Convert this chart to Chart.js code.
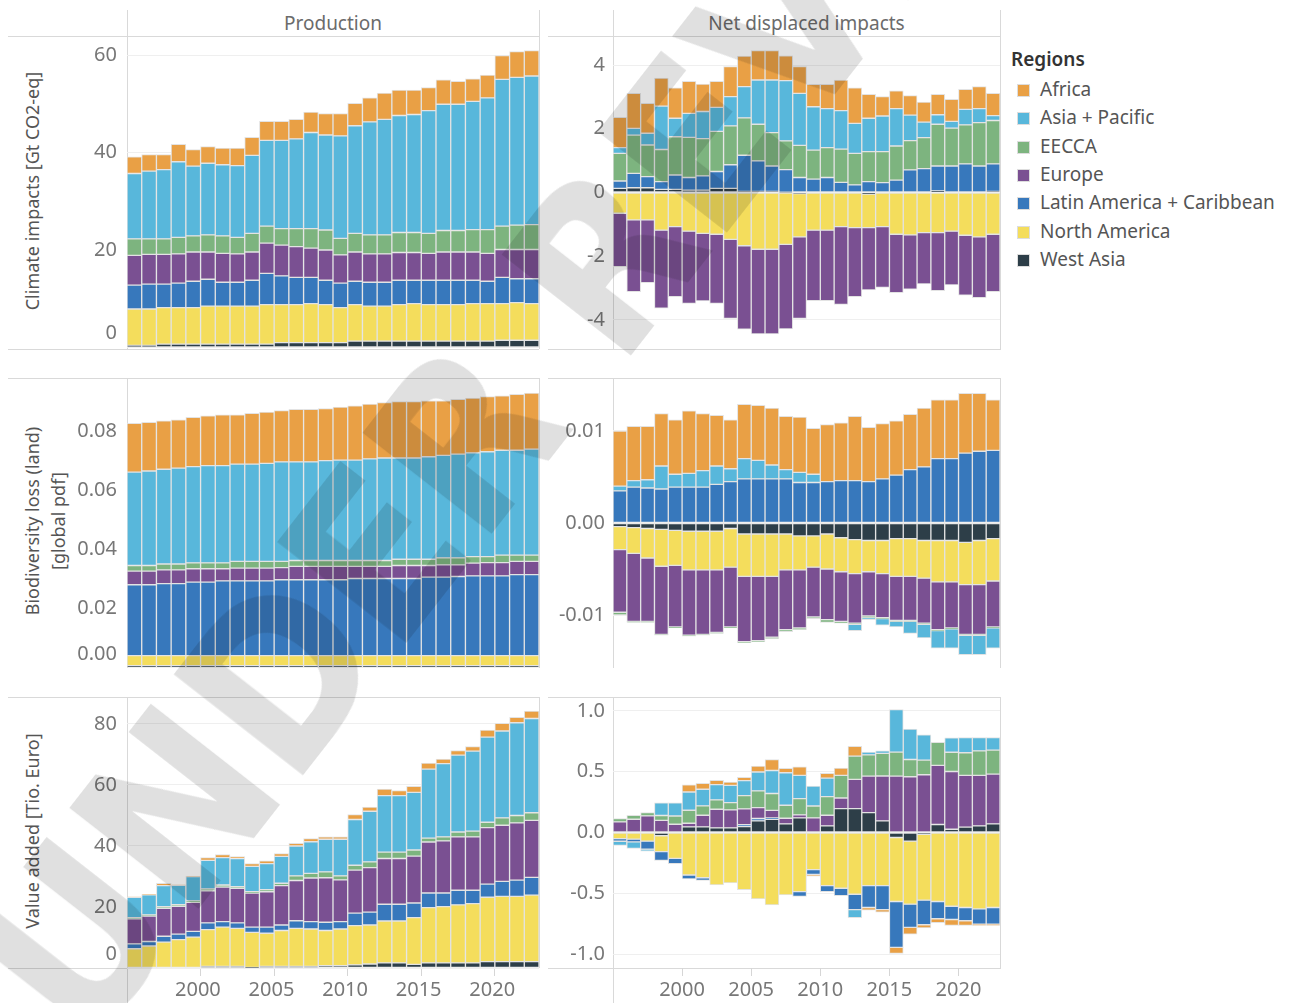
<!DOCTYPE html>
<html lang="en">
<head>
<meta charset="UTF-8">
<title>Production and net displaced impacts by region</title>
<script src="https://cdn.jsdelivr.net/npm/chart.js"></script>
<style>
  body { margin: 0; background: #fff; font-family: 'Noto Sans', 'Open Sans', sans-serif; }
  #page { position: relative; width: 1290px; height: 1003px; overflow: hidden; }
  canvas { position: absolute; }
  .line { position: absolute; background: #d9d9d9; }
  .header { position: absolute; top: 10px; height: 26px; line-height: 26px; text-align: center; font-size: 19px; color: #6b6b6b; }
  .ytitle { position: absolute; transform: translate(-50%, -50%) rotate(-90deg); white-space: nowrap; font-size: 18px; color: #555; }
  .legend-title { position: absolute; left: 1011px; top: 46px; font-size: 19px; font-weight: 600; color: #333; }
  .legend-item { position: absolute; left: 1017px; height: 28px; line-height: 28px; font-size: 19px; color: #555; white-space: nowrap; }
  .legend-item span { display: inline-block; width: 13px; height: 13px; margin-right: 10px; vertical-align: -1px; border: 1px solid #ddd; box-sizing: border-box; }
  #watermark { position: absolute; left: 8px; top: 882px; height: 220px; line-height: 220px; font: bold 225px 'DejaVu Sans Condensed', 'DejaVu Sans', sans-serif; font-stretch: condensed; color: rgba(0,0,0,0.12); white-space: nowrap; transform-origin: 0 50%; transform: rotate(-52deg); pointer-events: none; z-index: 5; }
</style>
</head>
<body>
<div id="page">
  <div class="header" style="left:127px;width:412px">Production</div>
  <div class="header" style="left:613px;width:387px">Net displaced impacts</div>

  <div class="ytitle" style="left:32px;top:191px">Climate impacts [Gt CO2-eq]</div>
  <div class="ytitle" style="left:32px;top:521px">Biodiversity loss (land)</div>
  <div class="ytitle" style="left:58px;top:521px">[global pdf]</div>
  <div class="ytitle" style="left:32px;top:831px">Value added [Tio. Euro]</div>

  <canvas id="climProd" width="532" height="313" style="left:8px;top:36px"></canvas>
  <canvas id="climNet" width="453" height="313" style="left:548px;top:36px"></canvas>
  <canvas id="bioProd" width="532" height="290" style="left:8px;top:378px"></canvas>
  <canvas id="bioNet" width="453" height="290" style="left:548px;top:378px"></canvas>
  <canvas id="vaProd" width="532" height="306" style="left:8px;top:697px"></canvas>
  <canvas id="vaNet" width="453" height="306" style="left:548px;top:697px"></canvas>

  <div class="legend-title">Regions</div>
  <div id="legend"></div>

  <div id="watermark">UNDER REVIEW</div>
</div>

<script>
const years = [1995, 1996, 1997, 1998, 1999, 2000, 2001, 2002, 2003, 2004, 2005, 2006, 2007, 2008,
               2009, 2010, 2011, 2012, 2013, 2014, 2015, 2016, 2017, 2018, 2019, 2020, 2021, 2022];
const labelledYears = [2000, 2005, 2010, 2015, 2020];

// legend order
const legendRegions = ['Africa', 'Asia + Pacific', 'EECCA', 'Europe', 'Latin America + Caribbean', 'North America', 'West Asia'];
const legendColors = ['#e9a045', '#58b7db', '#7db47f', '#7a5092', '#3778bc', '#f4dd5c', '#2d3e48'];

// stacking order, bottom to top
const stackRegions = ['West Asia', 'North America', 'Latin America + Caribbean', 'Europe', 'EECCA', 'Asia + Pacific', 'Africa'];
const stackColors = ['#2d3e48', '#f4dd5c', '#3778bc', '#7a5092', '#7db47f', '#58b7db', '#e9a045'];

// Climate impacts, production [Gt CO2-eq]
const climProdWestAsia = [0.45, 0.45, 0.7, 0.7, 0.7, 0.7, 0.7, 0.7, 0.7, 0.7, 1.0, 1.0, 1.0, 1.0, 1.0, 1.3, 1.3, 1.3, 1.3, 1.3, 1.3, 1.3, 1.3, 1.3, 1.3, 1.5, 1.5, 1.5];
const climProdNamerica = [7.45, 7.45, 7.5, 7.5, 7.5, 7.8, 7.8, 7.8, 7.8, 8.1, 7.8, 7.8, 8.0, 7.8, 7.2, 7.5, 7.2, 7.2, 7.5, 7.7, 7.5, 7.5, 7.5, 7.7, 7.7, 7.5, 7.7, 7.5];
const climProdLatam = [4.9, 5.1, 4.8, 5.0, 5.4, 5.5, 4.9, 4.9, 5.3, 6.4, 5.9, 5.6, 5.4, 5.0, 5.0, 4.8, 4.9, 4.9, 5.0, 4.8, 5.0, 5.0, 5.0, 4.8, 4.6, 5.4, 4.9, 5.1];
const climProdEurope = [6.1, 6.1, 6.1, 6.0, 6.0, 5.6, 5.9, 5.8, 5.8, 6.2, 6.3, 6.3, 6.0, 6.2, 5.8, 6.0, 5.8, 5.8, 5.7, 5.7, 5.5, 5.8, 5.8, 5.8, 5.7, 5.7, 6.0, 6.0];
const climProdEecca = [3.4, 3.2, 3.2, 3.4, 3.3, 3.5, 3.6, 3.4, 3.8, 3.5, 3.4, 3.7, 4.0, 4.1, 3.4, 3.8, 3.9, 3.9, 4.1, 4.1, 4.1, 4.4, 4.4, 4.6, 4.9, 4.8, 5.0, 5.1];
const climProdAsia = [13.4, 13.9, 14.2, 15.5, 14.3, 14.7, 14.6, 14.7, 16.0, 17.6, 18.1, 18.4, 19.7, 19.5, 21.0, 22.1, 23.2, 23.7, 24.0, 24.2, 25.2, 25.9, 25.9, 26.3, 27.0, 30.1, 30.3, 30.5];
const climProdAfrica = [3.4, 3.4, 3.1, 3.6, 3.4, 3.4, 3.4, 3.6, 3.7, 3.9, 3.9, 4.0, 4.2, 4.4, 4.6, 4.6, 4.9, 5.4, 5.2, 5.0, 4.7, 5.0, 4.7, 4.6, 4.7, 4.9, 5.3, 5.2];

// Climate impacts, net displaced
const climNetWestAsia = [0.13, 0.15, 0.15, 0.10, 0.10, 0.07, 0.07, 0.13, 0.13, 0.03, 0.03, 0.03, 0.01, -0.03, 0, 0, 0, 0, -0.05, 0, 0, 0, 0, 0.05, 0, 0, 0, 0.03];
const climNetNamerica = [-0.65, -0.86, -0.86, -1.18, -1.07, -1.21, -1.28, -1.31, -1.47, -1.67, -1.78, -1.78, -1.63, -1.36, -1.18, -1.18, -1.07, -1.10, -1.05, -1.07, -1.31, -1.33, -1.26, -1.26, -1.21, -1.34, -1.39, -1.31];
const climNetLatam = [0.23, 0.45, 0.35, 0.24, 0.45, 0.40, 0.45, 0.53, 0.74, 1.14, 0.96, 0.80, 0.71, 0.47, 0.42, 0.47, 0.32, 0.24, 0.34, 0.31, 0.39, 0.71, 0.75, 0.78, 0.83, 0.90, 0.83, 0.87];
const climNetEurope = [-1.68, -2.25, -1.97, -2.45, -2.20, -2.27, -2.12, -2.17, -2.48, -2.62, -2.66, -2.66, -2.65, -2.56, -2.21, -2.21, -2.44, -2.17, -1.96, -1.91, -1.83, -1.70, -1.61, -1.82, -1.69, -1.88, -1.91, -1.80];
const climNetEecca = [0.87, 1.20, 0.99, 1.01, 1.20, 1.26, 1.17, 1.26, 1.22, 1.17, 1.15, 1.05, 0.90, 1.01, 0.91, 0.94, 1.04, 0.99, 0.94, 0.97, 1.07, 0.92, 0.97, 1.31, 1.19, 1.22, 1.36, 1.36];
const climNetAsia = [0.18, 0.21, 0.37, 1.36, 0.58, 0.75, 0.85, 0.75, 0.92, 0.98, 1.39, 1.65, 1.89, 1.63, 1.36, 1.22, 1.21, 0.94, 1.05, 1.12, 1.17, 0.80, 0.49, 0.30, 0.21, 0.49, 0.44, 0.15];
const climNetAfrica = [0.95, 1.10, 0.94, 0.88, 0.95, 1.01, 0.86, 0.82, 0.94, 0.96, 0.92, 0.92, 0.78, 0.84, 0.70, 0.76, 0.96, 1.11, 0.75, 0.61, 0.56, 0.61, 0.63, 0.64, 0.69, 0.63, 0.69, 0.70];

// Biodiversity loss (land), production [global pdf]
const bioProdWestAsia = [0.0008, 0.0008, 0.0008, 0.0008, 0.0008, 0.0008, 0.0008, 0.0008, 0.0008, 0.0008, 0.0008, 0.0008, 0.0008, 0.0008, 0.0008, 0.0008, 0.0008, 0.0008, 0.0008, 0.0008, 0.0008, 0.0008, 0.0008, 0.0008, 0.0008, 0.0008, 0.0008, 0.0008];
const bioProdNamerica = [0.0034, 0.0034, 0.0034, 0.0034, 0.0034, 0.0034, 0.0034, 0.0034, 0.0034, 0.0034, 0.0034, 0.0034, 0.0034, 0.0034, 0.0034, 0.0034, 0.0034, 0.0034, 0.0034, 0.0034, 0.0034, 0.0034, 0.0034, 0.0034, 0.0034, 0.0034, 0.0034, 0.0034];
const bioProdLatam = [0.0239, 0.0239, 0.0243, 0.0243, 0.0248, 0.0248, 0.0252, 0.0252, 0.0252, 0.0252, 0.0256, 0.0256, 0.0256, 0.0256, 0.0256, 0.0260, 0.0260, 0.0260, 0.0260, 0.0260, 0.0265, 0.0265, 0.0267, 0.0269, 0.0269, 0.0269, 0.0273, 0.0273];
const bioProdEurope = [0.0046, 0.0046, 0.0046, 0.0046, 0.0045, 0.0045, 0.0041, 0.0043, 0.0043, 0.0043, 0.0041, 0.0045, 0.0045, 0.0045, 0.0045, 0.0041, 0.0041, 0.0041, 0.0044, 0.0044, 0.0039, 0.0041, 0.0039, 0.0043, 0.0045, 0.0045, 0.0045, 0.0045];
const bioProdEecca = [0.0019, 0.0019, 0.0020, 0.0020, 0.0020, 0.0020, 0.0020, 0.0023, 0.0023, 0.0023, 0.0021, 0.0020, 0.0020, 0.0020, 0.0020, 0.0020, 0.0020, 0.0020, 0.0021, 0.0021, 0.0021, 0.0024, 0.0024, 0.0022, 0.0020, 0.0025, 0.0021, 0.0021];
const bioProdAsia = [0.0315, 0.0319, 0.0320, 0.0324, 0.0325, 0.0328, 0.0328, 0.0328, 0.0328, 0.0331, 0.0336, 0.0333, 0.0333, 0.0337, 0.0339, 0.0339, 0.0343, 0.0346, 0.0342, 0.0342, 0.0346, 0.0346, 0.0350, 0.0350, 0.0354, 0.0354, 0.0354, 0.0358];
const bioProdAfrica = [0.0165, 0.0164, 0.0163, 0.0163, 0.0166, 0.0168, 0.0172, 0.0167, 0.0172, 0.0173, 0.0173, 0.0177, 0.0177, 0.0176, 0.0179, 0.0183, 0.0185, 0.0187, 0.0190, 0.0190, 0.0189, 0.0184, 0.0185, 0.0185, 0.0186, 0.0184, 0.0189, 0.0189];

// Biodiversity loss (land), net displaced
const bioNetWestAsia = [-0.0004, -0.0005, -0.0006, -0.0007, -0.0008, -0.0009, -0.0009, -0.0009, -0.0006, -0.0012, -0.0012, -0.0012, -0.0012, -0.0014, -0.0014, -0.0012, -0.0016, -0.0018, -0.0019, -0.0019, -0.0017, -0.0017, -0.0019, -0.0019, -0.0019, -0.0021, -0.0019, -0.0017];
const bioNetNamerica = [-0.0025, -0.0028, -0.0032, -0.0040, -0.0038, -0.0042, -0.0042, -0.0042, -0.0042, -0.0046, -0.0046, -0.0046, -0.0039, -0.0037, -0.0034, -0.0038, -0.0037, -0.0037, -0.0034, -0.0036, -0.0041, -0.0041, -0.0041, -0.0045, -0.0045, -0.0046, -0.0048, -0.0046];
const bioNetLatam = [0.0035, 0.0039, 0.0038, 0.0037, 0.0039, 0.0039, 0.0039, 0.0042, 0.0045, 0.0048, 0.0048, 0.0048, 0.0048, 0.0044, 0.0044, 0.0045, 0.0046, 0.0046, 0.0045, 0.0048, 0.0052, 0.0058, 0.0061, 0.0070, 0.0070, 0.0076, 0.0078, 0.0079];
const bioNetEurope = [-0.0068, -0.0074, -0.0069, -0.0074, -0.0067, -0.0071, -0.0070, -0.0068, -0.0065, -0.0071, -0.0070, -0.0066, -0.0065, -0.0063, -0.0054, -0.0055, -0.0054, -0.0054, -0.0048, -0.0048, -0.0048, -0.0048, -0.0049, -0.0052, -0.0050, -0.0054, -0.0054, -0.0050];
const bioNetEecca = [-0.0003, -0.0001, -0.0001, -0.0001, -0.0001, -0.0001, -0.0001, -0.0001, -0.0001, -0.0001, -0.0001, -0.0002, -0.0002, -0.0002, -0.0002, -0.0003, -0.0002, -0.0001, -0.0002, -0.0001, -0.0001, -0.0001, -0.0001, -0.0001, -0.0001, -0.0001, -0.0001, -0.0001];
const bioNetAsia = [0.0005, 0.0007, 0.0009, 0.0025, 0.0014, 0.0015, 0.0018, 0.0020, 0.0014, 0.0022, 0.0020, 0.0015, 0.0010, 0.0011, 0.0009, 0, 0, -0.0007, -0.0002, -0.0007, -0.0006, -0.0013, -0.0015, -0.0019, -0.0021, -0.0021, -0.0021, -0.0022];
const bioNetAfrica = [0.0060, 0.0059, 0.0058, 0.0057, 0.0059, 0.0068, 0.0062, 0.0055, 0.0053, 0.0059, 0.0060, 0.0062, 0.0058, 0.0060, 0.0050, 0.0062, 0.0063, 0.0070, 0.0059, 0.0060, 0.0059, 0.0060, 0.0064, 0.0064, 0.0064, 0.0065, 0.0063, 0.0055];

// Value added, production [Tio. Euro]
const vaProdWestAsia = [0, 0, 0, 0, 0, 0.5, 0.5, 0.5, 0.2, 0.5, 0.5, 0.5, 0.5, 0.8, 0.8, 1.0, 1.3, 1.7, 1.7, 1.2, 1.7, 1.7, 1.7, 1.7, 2.1, 2.1, 2.1, 2.1];
const vaProdNamerica = [6.3, 7.2, 8.5, 9.3, 10.1, 12.1, 12.9, 12.5, 11.5, 10.9, 11.8, 12.5, 12.3, 11.5, 12.0, 12.9, 12.8, 13.7, 13.7, 15.3, 18.1, 18.4, 19.0, 19.4, 21.1, 21.4, 21.4, 21.8];
const vaProdLatam = [1.6, 1.5, 1.9, 1.8, 1.9, 2.2, 1.8, 1.8, 1.7, 2.0, 1.8, 2.5, 2.4, 2.7, 2.4, 4.1, 4.2, 5.5, 5.5, 4.8, 4.8, 4.5, 4.8, 4.4, 4.3, 4.9, 5.3, 5.8];
const vaProdEurope = [8.2, 8.3, 9.2, 9.1, 9.5, 10.5, 11.3, 11.3, 11.2, 11.6, 12.9, 13.2, 14.3, 14.6, 13.7, 14.1, 14.6, 15.0, 15.0, 15.4, 16.7, 17.1, 17.5, 17.5, 18.5, 18.4, 18.8, 18.7];
const vaProdEecca = [0.4, 0.4, 0.5, 0.6, 0.5, 0.6, 0.7, 0.6, 0.4, 0.7, 0.8, 1.5, 1.5, 1.9, 1.3, 1.6, 1.9, 2.1, 2.1, 2.0, 1.3, 1.3, 1.6, 1.9, 1.8, 2.4, 2.4, 2.5];
const vaProdAsia = [6.7, 6.6, 6.9, 6.3, 8.0, 9.4, 9.0, 9.2, 8.3, 8.5, 8.8, 9.8, 10.4, 10.7, 12.0, 15.0, 16.6, 18.5, 18.5, 18.9, 22.6, 24.0, 25.2, 26.2, 27.9, 28.5, 30.4, 30.9];
const vaProdAfrica = [0.1, 0.1, 0.8, 0.2, 0.1, 0.9, 1.0, 0.6, 0.9, 0.9, 0.9, 0.9, 1.0, 0.8, 0.8, 1.6, 1.4, 2.2, 1.7, 2.0, 2.0, 1.5, 1.5, 1.5, 2.3, 2.5, 1.8, 2.4];

// Value added, net displaced
const vaNetWestAsia = [0, 0, 0, -0.027, 0, 0.046, 0.046, 0.038, 0.038, 0.049, 0.096, 0.109, 0.071, 0.12, 0, 0.055, 0.197, 0.197, 0.164, 0.096, -0.041, -0.071, -0.016, 0.066, 0.027, 0.044, 0.055, 0.071];
const vaNetNamerica = [-0.05, -0.055, -0.071, -0.131, -0.213, -0.35, -0.372, -0.432, -0.415, -0.47, -0.546, -0.596, -0.514, -0.486, -0.306, -0.437, -0.459, -0.508, -0.437, -0.437, -0.527, -0.519, -0.541, -0.568, -0.607, -0.617, -0.628, -0.617];
const vaNetLatam = [-0.022, -0.022, -0.066, -0.071, -0.044, -0.033, -0.022, 0, 0, 0.015, 0.019, 0.01, 0, -0.041, -0.038, -0.049, -0.06, -0.126, -0.18, -0.197, -0.377, -0.191, -0.202, -0.142, -0.109, -0.109, -0.126, -0.137];
const vaNetEurope = [0.087, 0.109, 0.137, 0.10, 0.068, 0.03, 0.096, 0.153, 0.148, 0.131, 0.09, 0.063, 0.046, 0.025, 0.12, 0.087, 0.087, 0.24, 0.30, 0.369, 0.464, 0.459, 0.475, 0.486, 0.475, 0.426, 0.415, 0.41];
const vaNetEecca = [0.027, 0.033, 0.027, 0.04, 0.068, 0.107, 0.077, 0.077, 0.06, 0.109, 0.137, 0.139, 0.107, 0.134, 0.098, 0.153, 0.186, 0.191, 0.175, 0.186, 0.197, 0.142, 0.12, 0.191, 0.158, 0.186, 0.202, 0.197];
const vaNetAsia = [-0.035, -0.055, -0.016, 0.104, 0.109, 0.15, 0.137, 0.126, 0.142, 0.123, 0.156, 0.189, 0.268, 0.191, 0.164, 0.153, 0, -0.066, 0.022, 0.022, 0.35, 0.251, 0.208, 0, 0.12, 0.126, 0.109, 0.104];
const vaNetAfrica = [0, 0, 0, 0, 0, 0.06, 0.049, 0.036, 0.027, 0.027, 0.049, 0.09, 0.036, 0.071, -0.016, 0.038, 0.06, 0.082, -0.022, -0.022, -0.049, -0.055, -0.027, -0.033, -0.049, -0.038, -0.011, -0.011];

// y-axis ticks per panel
const climProdTicks = [0, 20, 40, 60];
const climNetTicks = [-4, -2, 0, 2, 4];
const bioProdTicks = [0, 0.02, 0.04, 0.06, 0.08];
const bioNetTicks = [-0.01, 0, 0.01];
const vaProdTicks = [0, 20, 40, 60, 80];
const vaNetTicks = [-1, -0.5, 0, 0.5, 1];

Chart.defaults.font.family = "'Noto Sans', 'Open Sans', sans-serif";

function makePanel(id, series, opts) {
  const datasets = series.map((data, i) => ({
    label: stackRegions[i],
    data: data,
    backgroundColor: stackColors[i],
    borderColor: '#e3e3e3',
    borderWidth: 1,
    borderSkipped: false,
    categoryPercentage: 1,
    barPercentage: 1
  }));

  return new Chart(document.getElementById(id), {
    type: 'bar',
    data: { labels: years.map(String), datasets: datasets },
    options: {
      responsive: false,
      animation: false,
      events: [],
      layout: { padding: { left: 0, right: 1, top: 0, bottom: 0 }, autoPadding: false },
      plugins: { legend: { display: false }, tooltip: { enabled: false } },
      scales: {
        x: {
          stacked: true,
          display: opts.showYears,
          border: { display: false },
          grid: {
            drawOnChartArea: false,
            tickLength: 8,
            color: c => (c.tick && labelledYears.includes(years[c.index])) ? '#d6d6d6' : 'rgba(0,0,0,0)'
          },
          ticks: {
            autoSkip: false,
            maxRotation: 0,
            padding: 2,
            labelOffset: opts.labelShift,
            color: '#777',
            font: { size: 20 },
            callback: (v, i) => labelledYears.includes(years[i]) ? String(years[i]) : ''
          },
          afterFit: s => { s.height = opts.showYears ? 35 : 0; s.paddingLeft = 0; s.paddingRight = 0; }
        },
        y: {
          stacked: true,
          min: opts.min,
          max: opts.max,
          border: { display: false },
          grid: { color: '#efefef', drawTicks: false },
          afterBuildTicks: s => { s.ticks = opts.ticks.map(v => ({ value: v })); },
          ticks: {
            autoSkip: false,
            padding: opts.tickPad,
            color: '#777',
            font: { size: 20, lineHeight: 1.4 },
            callback: v => {
              const txt = v.toFixed(opts.decimals);
              // keep the bottom label inside the pane
              return (opts.liftZero && v === 0) ? [txt, ''] : txt;
            }
          },
          afterFit: s => { s.width = opts.axisWidth; s.paddingTop = 0; s.paddingBottom = 0; }
        }
      }
    }
  });
}

const left = { axisWidth: 119, tickPad: 10, labelShift: -10, liftZero: true };
const right = { axisWidth: 65, tickPad: 8, labelShift: -7, liftZero: false };

makePanel('climProd',
  [climProdWestAsia, climProdNamerica, climProdLatam, climProdEurope, climProdEecca, climProdAsia, climProdAfrica],
  Object.assign({}, left, { min: -0.3, max: 63.9, ticks: climProdTicks, decimals: 0, showYears: false }));
makePanel('climNet',
  [climNetWestAsia, climNetNamerica, climNetLatam, climNetEurope, climNetEecca, climNetAsia, climNetAfrica],
  Object.assign({}, right, { min: -4.91, max: 4.91, ticks: climNetTicks, decimals: 0, showYears: false }));
makePanel('bioProd',
  [bioProdWestAsia, bioProdNamerica, bioProdLatam, bioProdEurope, bioProdEecca, bioProdAsia, bioProdAfrica],
  Object.assign({}, left, { min: 0, max: 0.0979, ticks: bioProdTicks, decimals: 2, showYears: false }));
makePanel('bioNet',
  [bioNetWestAsia, bioNetNamerica, bioNetLatam, bioNetEurope, bioNetEecca, bioNetAsia, bioNetAfrica],
  Object.assign({}, right, { min: -0.01576, max: 0.01576, ticks: bioNetTicks, decimals: 2, showYears: false }));
makePanel('vaProd',
  [vaProdWestAsia, vaProdNamerica, vaProdLatam, vaProdEurope, vaProdEecca, vaProdAsia, vaProdAfrica],
  Object.assign({}, left, { min: 0, max: 88.85, ticks: vaProdTicks, decimals: 0, showYears: true }));
makePanel('vaNet',
  [vaNetWestAsia, vaNetNamerica, vaNetLatam, vaNetEurope, vaNetEecca, vaNetAsia, vaNetAfrica],
  Object.assign({}, right, { min: -1.115, max: 1.115, ticks: vaNetTicks, decimals: 1, showYears: true }));

// pane frame lines
const page = document.getElementById('page');
function addLine(x, y, w, h) {
  const d = document.createElement('div');
  d.className = 'line';
  d.style.cssText = `left:${x}px;top:${y}px;width:${w}px;height:${h}px`;
  page.insertBefore(d, page.firstChild);
}
[[127, 10, 349], [127, 378, 668], [127, 697, 1003],
 [539, 10, 349], [539, 378, 668], [539, 697, 968],
 [613, 10, 349], [613, 378, 668], [613, 697, 1003],
 [1000, 10, 349], [1000, 378, 668], [1000, 697, 968]].forEach(([x, y1, y2]) => addLine(x, y1, 1, y2 - y1));
[36, 349, 378, 697, 968].forEach(y => {
  addLine(8, y, 531, 1);
  addLine(548, y, 453, 1);
});

// legend
const legend = document.getElementById('legend');
legendRegions.forEach((name, i) => {
  const item = document.createElement('div');
  item.className = 'legend-item';
  item.style.top = (75 + i * 28.3) + 'px';
  item.innerHTML = `<span style="background:${legendColors[i]}"></span>${name}`;
  legend.appendChild(item);
});
</script>
</body>
</html>
